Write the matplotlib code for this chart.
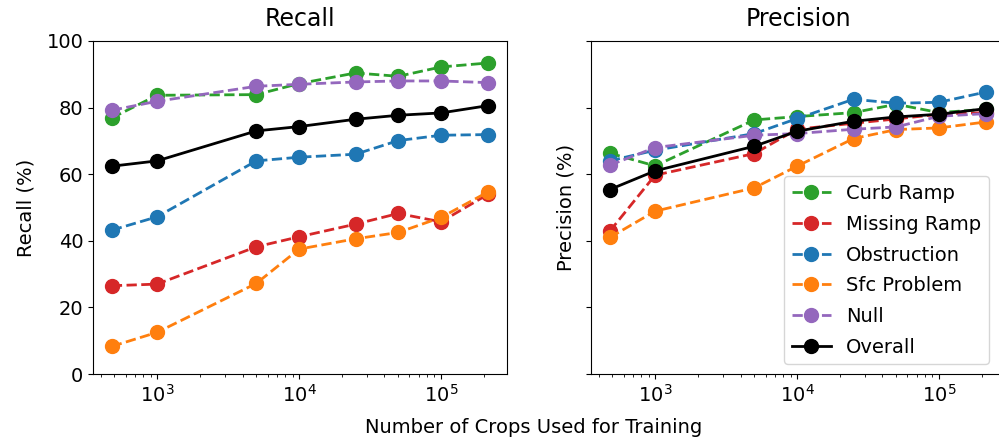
import numpy as np
import matplotlib
matplotlib.use("Agg")
import matplotlib.pyplot as plt

# number of training crops
crops = [480, 1000, 5000, 10000, 25000, 50000, 100000, 215000]

labels = ["Curb Ramp", "Missing Ramp", "Obstruction", "Sfc Problem", "Null", "Overall"]
colors = ["#2ca02c", "#d62728", "#1f77b4", "#ff7f0e", "#9467bd", "black"]

# recall (%)
recall_curb = [76.9, 83.7, 83.9, 87.2, 90.4, 89.4, 92.2, 93.4]
recall_missing = [26.5, 27.0, 38.2, 41.2, 45.0, 48.2, 45.7, 54.0]
recall_obstruction = [43.2, 47.2, 64.0, 65.1, 66.0, 70.1, 71.7, 71.9]
recall_sfc = [8.3, 12.5, 27.2, 37.5, 40.6, 42.5, 47.0, 54.7]
recall_null = [79.2, 81.9, 86.4, 87.0, 87.7, 88.0, 88.0, 87.5]
recall_overall = [62.4, 64.0, 73.0, 74.3, 76.5, 77.7, 78.4, 80.6]

# precision (%)
prec_curb = [66.3, 62.5, 76.3, 77.3, 78.5, 81.0, 78.5, 79.5]
prec_missing = [42.9, 59.7, 66.2, 73.5, 75.3, 76.6, 78.0, 78.5]
prec_obstruction = [64.0, 67.2, 72.2, 76.7, 82.5, 81.3, 81.6, 84.7]
prec_sfc = [41.0, 48.9, 55.9, 62.4, 70.7, 73.4, 73.9, 75.7]
prec_null = [62.7, 68.0, 71.7, 72.2, 73.5, 74.2, 77.4, 78.2]
prec_overall = [55.4, 61.0, 68.4, 72.9, 75.9, 77.2, 78.0, 79.7]

recall = [recall_curb, recall_missing, recall_obstruction, recall_sfc, recall_null, recall_overall]
precision = [prec_curb, prec_missing, prec_obstruction, prec_sfc, prec_null, prec_overall]

plt.rcParams['font.size'] = 14

fig = plt.figure(figsize=(9.99, 4.4), dpi=100)
ax1 = fig.add_axes([93/999, 66/440, 414/999, 333/440])
ax2 = fig.add_axes([591/999, 66/440, 414/999, 333/440], sharey=ax1)

for ax, data in [(ax1, recall), (ax2, precision)]:
    for vals, lab, c in zip(data, labels, colors):
        ls = '-' if lab == "Overall" else '--'
        ax.plot(crops, vals, ls, color=c, marker='o', markersize=10, linewidth=2, label=lab)
    ax.set_xscale('log')
    ax.set_ylim(0, 100)
    ax.set_yticks([0, 20, 40, 60, 80, 100])

ax1.set_title("Recall", fontsize=17, pad=11)
ax2.set_title("Precision", fontsize=17, pad=11)
ax1.set_ylabel("Recall (%)", labelpad=8)
ax2.set_ylabel("Precision (%)", labelpad=8)
plt.setp(ax2.get_yticklabels(), visible=False)

ax2.legend(loc='lower right', bbox_to_anchor=(0.985, 0.0), labelspacing=0.6)
fig.text(534/999, 3/440, "Number of Crops Used for Training", ha='center', va='bottom')

fig.savefig("out.png", dpi=100)
